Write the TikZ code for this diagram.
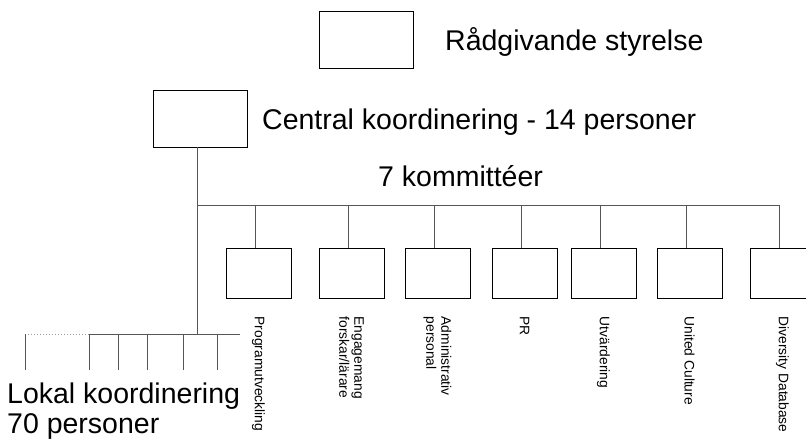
\documentclass[tikz,border=0pt]{standalone}
\usepackage{fontspec}
\setmainfont{Liberation Sans}
\usetikzlibrary{positioning}
\definecolor{linegray}{HTML}{555555}
\definecolor{dotgray}{HTML}{9A9A9A}

\begin{document}
\begin{tikzpicture}[
  x=1pt, y=-1pt,
  box/.style={draw=black, line width=1pt, fill=white, inner sep=0pt,
              minimum width=94pt, minimum height=57pt},
  cbox/.style={draw=black, line width=1pt, fill=white, inner sep=0pt,
               minimum width=65pt, minimum height=50pt},
  big/.style={inner sep=0pt, font=\fontsize{28.5}{30}\selectfont, align=left},
  lbl/.style={inner sep=0pt, rotate=-90, anchor=west, align=left,
              font=\fontsize{13.8}{15}\selectfont},
  conn/.style={draw=linegray, line width=1pt}
]
  \useasboundingbox (0,0) rectangle (806,440);

  % top boxes
  \node[box] (board)   at (366,39.5)  {};
  \node[box] (central) at (200,118.5) {};
  \node[big, anchor=base west] (boardtxt)   at (445,50)  {Rådgivande styrelse};
  \node[big, anchor=base west] (centraltxt) at (262,129) {Central koordinering - 14 personer};
  \node[big, anchor=base west] (commtxt)    at (378,186) {7 kommittéer};

  % committees
  \node[cbox] (prog)  at (258.5,273) {};
  \node[cbox] (eng)   at (351.5,273) {};
  \node[cbox] (adm)   at (437.5,273) {};
  \node[cbox] (pr)    at (524.5,273) {};
  \node[cbox] (utv)   at (603.5,273) {};
  \node[cbox] (uc)    at (689.5,273) {};
  \node[cbox] (div)   at (782.5,273) {};

  \node[lbl] (progtxt) at ([yshift=-18pt]prog.south) {Programutveckling};
  \node[lbl] (engtxt)  at ([yshift=-18pt]eng.south)  {Engagemang\\forskar/lärare};
  \node[lbl] (admtxt)  at ([yshift=-18pt]adm.south)  {Administrativ\\personal};
  \node[lbl] (prtxt)   at ([yshift=-18pt]pr.south)   {PR};
  \node[lbl] (utvtxt)  at ([yshift=-18pt]utv.south)  {Utvärdering};
  \node[lbl] (uctxt)   at ([yshift=-18pt]uc.south)   {United Culture};
  \node[lbl] (divtxt)  at ([yshift=-18pt]div.south)  {Diversity Database};

  % bars
  \coordinate (spine)  at (197.5,147);
  \coordinate (cbar)   at (197.5,205);
  \coordinate (cbarR)  at (780,205);
  \coordinate (lbar)   at (197.5,334);
  \coordinate (lbarL)  at (89,334);
  \coordinate (lbarR)  at (240,334);
  \coordinate (lbarD)  at (25,334);

  \draw[conn] (spine) -- (lbar);
  \draw[conn] (cbar) -- (cbarR);
  \draw[conn] (lbarL) -- (lbarR);
  \draw[draw=dotgray, line width=1pt, dotted] (lbarD) -- (lbarL);

  \draw[conn] ([xshift=-3.5pt]prog.north) -- ([xshift=-3.5pt]prog.north |- cbar);
  \draw[conn] ([xshift=-3.5pt]eng.north)  -- ([xshift=-3.5pt]eng.north |- cbar);
  \draw[conn] ([xshift=-3.5pt]adm.north)  -- ([xshift=-3.5pt]adm.north |- cbar);
  \draw[conn] ([xshift=-3.5pt]pr.north)   -- ([xshift=-3.5pt]pr.north |- cbar);
  \draw[conn] ([xshift=-3.5pt]utv.north)  -- ([xshift=-3.5pt]utv.north |- cbar);
  \draw[conn] ([xshift=-3.5pt]uc.north)   -- ([xshift=-3.5pt]uc.north |- cbar);
  \draw[conn] ([xshift=-3.5pt]div.north)  -- ([xshift=-3.5pt]div.north |- cbar);

  % local stubs
  \coordinate (l1) at (25,370);
  \coordinate (l2) at (89,370);
  \coordinate (l3) at (118,370);
  \coordinate (l4) at (147,370);
  \coordinate (l5) at (183,370);
  \coordinate (l6) at (217,370);
  \draw[conn] (l1 |- lbar) -- (l1);
  \draw[conn] (l2 |- lbar) -- (l2);
  \draw[conn] (l3 |- lbar) -- (l3);
  \draw[conn] (l4 |- lbar) -- (l4);
  \draw[conn] (l5 |- lbar) -- (l5);
  \draw[conn] (l6 |- lbar) -- (l6);

  \node[big, anchor=base west] (localtxt) at (7,433.5) {Lokal koordinering\\70 personer};
\end{tikzpicture}
\end{document}
